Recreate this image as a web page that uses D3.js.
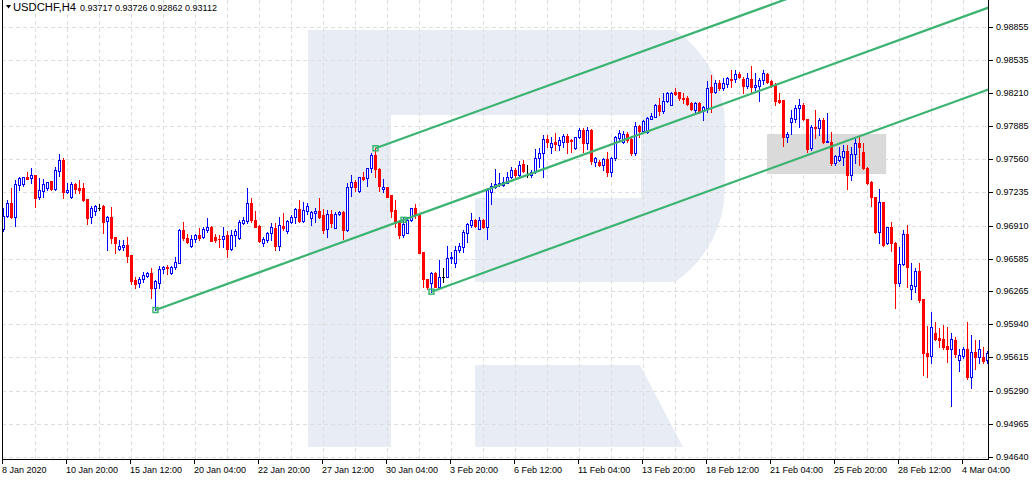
<!DOCTYPE html>
<html>
<head>
<meta charset="utf-8">
<script src="https://cdn.jsdelivr.net/npm/d3@7"></script>
<style>
  body { margin: 0; background: #fff; }
  svg { display: block; font-family: "Liberation Sans", Arial, sans-serif; }
</style>
</head>
<body>
<script>
// USDCHF H4 candles (bar 0 = 8 Jan 2020)
const open = [
  0.96874,0.97004,0.97135,0.96997,0.97311,0.97318,0.97390,0.97374,0.97407,0.97186,
  0.97252,0.97276,0.97344,0.97266,0.97449,0.97554,0.97239,0.97186,0.97318,0.97276,
  0.97276,0.97168,0.96991,0.97050,0.97082,0.97102,0.96952,0.96997,0.96794,0.96677,
  0.96697,0.96719,0.96621,0.96375,0.96343,0.96382,0.96415,0.96442,0.96300,0.96349,
  0.96481,0.96506,0.96442,0.96500,0.96545,0.96866,0.96784,0.96709,0.96775,0.96817,
  0.96794,0.96866,0.96893,0.96794,0.96781,0.96775,0.96817,0.96677,0.96814,0.96784,
  0.96938,0.96952,0.97135,0.96965,0.96906,0.96741,0.96768,0.96834,0.96883,0.96709,
  0.96906,0.96856,0.96948,0.96991,0.97073,0.96955,0.97056,0.96982,0.97036,0.97053,
  0.97014,0.96873,0.97024,0.96889,0.97024,0.97046,0.96866,0.97285,0.97340,0.97252,
  0.97384,0.97374,0.97472,0.97603,0.97463,0.97272,0.97285,0.97210,0.97063,0.96948,
  0.96817,0.96840,0.96965,0.97078,0.97014,0.96650,0.96382,0.96349,0.96442,0.96309,
  0.96402,0.96402,0.96589,0.96540,0.96670,0.96703,0.96840,0.96916,0.96965,0.96873,
  0.96965,0.96893,0.97242,0.97292,0.97314,0.97308,0.97330,0.97384,0.97456,0.97407,
  0.97512,0.97407,0.97407,0.97439,0.97577,0.97625,0.97757,0.97684,0.97733,0.97701,
  0.97733,0.97789,0.97747,0.97669,0.97776,0.97848,0.97717,0.97848,0.97537,0.97537,
  0.97505,0.97563,0.97439,0.97570,0.97773,0.97733,0.97809,0.97757,0.97625,0.97888,
  0.97842,0.97832,0.97961,0.97980,0.98091,0.98038,0.98136,0.98097,0.98219,0.98219,
  0.98166,0.98160,0.98117,0.98045,0.98117,0.98035,0.98061,0.98268,0.98225,0.98313,
  0.98258,0.98300,0.98349,0.98346,0.98398,0.98349,0.98280,0.98349,0.98274,0.98280,
  0.98339,0.98398,0.98332,0.98290,0.98143,0.98143,0.97783,0.97930,0.97953,0.98061,
  0.98094,0.97953,0.97669,0.97881,0.97865,0.97947,0.97733,0.97733,0.97521,0.97554,
  0.97586,0.97645,0.97407,0.97613,0.97717,0.97635,0.97472,0.97340,0.97193,0.96849,
  0.97144,0.96736,0.96899,0.96742,0.96349,0.96533,0.96827,0.96284,0.96316,0.96467,
  0.96189,0.95662,0.95632,0.95852,0.95809,0.95793,0.95727,0.95698,0.95786,0.95594,
  0.95632,0.95698,0.95420,0.95672,0.95622,0.95622,0.95590
];
const high = [
  0.97080,0.97161,0.97276,0.97357,0.97390,0.97390,0.97439,0.97472,0.97407,0.97374,
  0.97364,0.97340,0.97350,0.97488,0.97613,0.97570,0.97330,0.97340,0.97330,0.97357,
  0.97325,0.97174,0.97102,0.97112,0.97119,0.97109,0.97004,0.97095,0.96800,0.96768,
  0.96768,0.96794,0.96621,0.96408,0.96408,0.96457,0.96457,0.96491,0.96375,0.96513,
  0.96513,0.96523,0.96513,0.96604,0.96873,0.96948,0.96824,0.96817,0.96824,0.96883,
  0.96893,0.96982,0.96906,0.96827,0.96817,0.96893,0.96859,0.96866,0.96873,0.96965,
  0.96997,0.97276,0.97178,0.97056,0.96916,0.96800,0.96849,0.96933,0.96933,0.96997,
  0.97030,0.96965,0.97014,0.97078,0.97161,0.97144,0.97135,0.97053,0.97078,0.97178,
  0.97073,0.97063,0.97063,0.97046,0.97056,0.97056,0.97325,0.97407,0.97357,0.97390,
  0.97439,0.97478,0.97620,0.97669,0.97472,0.97364,0.97292,0.97210,0.97161,0.96965,
  0.96997,0.96991,0.97085,0.97122,0.97024,0.96650,0.96388,0.96457,0.96451,0.96572,
  0.96491,0.96709,0.96653,0.96709,0.96736,0.96866,0.96933,0.97036,0.96972,0.96991,
  0.96972,0.97276,0.97325,0.97463,0.97423,0.97384,0.97439,0.97482,0.97472,0.97547,
  0.97554,0.97505,0.97456,0.97659,0.97669,0.97799,0.97799,0.97776,0.97815,0.97782,
  0.97809,0.97809,0.97757,0.97782,0.97865,0.97865,0.97881,0.97855,0.97586,0.97554,
  0.97570,0.97635,0.97580,0.97789,0.97848,0.97841,0.97832,0.97766,0.97930,0.97898,
  0.97947,0.97980,0.98012,0.98104,0.98163,0.98209,0.98225,0.98225,0.98258,0.98225,
  0.98209,0.98182,0.98126,0.98126,0.98126,0.98084,0.98333,0.98388,0.98339,0.98339,
  0.98356,0.98372,0.98438,0.98438,0.98421,0.98372,0.98405,0.98477,0.98411,0.98356,
  0.98438,0.98411,0.98339,0.98313,0.98209,0.98143,0.97832,0.98045,0.98094,0.98150,
  0.98110,0.97953,0.97898,0.98045,0.97963,0.97963,0.98012,0.97832,0.97603,0.97684,
  0.97701,0.97701,0.97684,0.97776,0.97776,0.97717,0.97482,0.97350,0.97193,0.97266,
  0.97144,0.96899,0.96948,0.96751,0.96703,0.96866,0.96916,0.96545,0.96491,0.96545,
  0.96189,0.95927,0.96064,0.95966,0.95901,0.95934,0.95917,0.95852,0.95819,0.95695,
  0.95720,0.95966,0.95835,0.95786,0.95786,0.95721,0.95681
];
const low = [
  0.96859,0.96991,0.96987,0.96906,0.97259,0.97298,0.97364,0.97330,0.97095,0.97168,
  0.97193,0.97259,0.97259,0.97259,0.97397,0.97183,0.97227,0.97176,0.97227,0.97227,
  0.97154,0.96926,0.96938,0.97014,0.97063,0.96840,0.96670,0.96736,0.96643,0.96670,
  0.96670,0.96555,0.96336,0.96293,0.96309,0.96358,0.96402,0.96202,0.96081,0.96293,
  0.96442,0.96435,0.96435,0.96481,0.96540,0.96768,0.96736,0.96703,0.96751,0.96768,
  0.96787,0.96849,0.96761,0.96751,0.96703,0.96703,0.96598,0.96670,0.96709,0.96781,
  0.96926,0.96938,0.96948,0.96893,0.96751,0.96709,0.96751,0.96768,0.96670,0.96670,
  0.96866,0.96840,0.96933,0.96933,0.96948,0.96948,0.97024,0.96916,0.96948,0.96982,
  0.96840,0.96800,0.96899,0.96883,0.97014,0.96775,0.96859,0.97200,0.97252,0.97242,
  0.97357,0.97298,0.97439,0.97390,0.97252,0.97242,0.97186,0.96997,0.96899,0.96784,
  0.96800,0.96834,0.96958,0.96982,0.96638,0.96309,0.96290,0.96261,0.96303,0.96303,
  0.96358,0.96402,0.96540,0.96500,0.96653,0.96653,0.96751,0.96899,0.96893,0.96873,
  0.96883,0.96775,0.97122,0.97276,0.97301,0.97298,0.97325,0.97374,0.97390,0.97390,
  0.97439,0.97384,0.97390,0.97423,0.97488,0.97390,0.97678,0.97620,0.97652,0.97652,
  0.97684,0.97625,0.97635,0.97659,0.97766,0.97635,0.97659,0.97514,0.97495,0.97495,
  0.97456,0.97397,0.97397,0.97554,0.97750,0.97724,0.97733,0.97603,0.97603,0.97783,
  0.97832,0.97822,0.97954,0.97974,0.97996,0.98012,0.98126,0.98094,0.98192,0.98143,
  0.98117,0.98094,0.98045,0.98018,0.98012,0.97947,0.98028,0.98028,0.98209,0.98241,
  0.98241,0.98274,0.98274,0.98323,0.98356,0.98209,0.98258,0.98225,0.98241,0.98136,
  0.98300,0.98313,0.98274,0.98094,0.98117,0.97691,0.97733,0.97809,0.97930,0.97881,
  0.97947,0.97635,0.97652,0.97766,0.97799,0.97717,0.97733,0.97505,0.97505,0.97547,
  0.97505,0.97266,0.97357,0.97521,0.97505,0.97463,0.97318,0.97102,0.96834,0.96736,
  0.96709,0.96729,0.96663,0.96098,0.96316,0.96523,0.96309,0.96186,0.96261,0.96162,
  0.95443,0.95426,0.95563,0.95786,0.95714,0.95695,0.95573,0.95138,0.95616,0.95485,
  0.95607,0.95403,0.95311,0.95498,0.95563,0.95563,0.95557
];
const close = [
  0.97004,0.97135,0.96991,0.97318,0.97377,0.97384,0.97371,0.97407,0.97183,0.97259,
  0.97318,0.97340,0.97272,0.97456,0.97554,0.97242,0.97259,0.97318,0.97272,0.97259,
  0.97161,0.96987,0.97078,0.97102,0.97082,0.96948,0.96997,0.96790,0.96736,0.96709,
  0.96716,0.96614,0.96368,0.96336,0.96382,0.96425,0.96442,0.96300,0.96365,0.96481,
  0.96500,0.96491,0.96506,0.96552,0.96866,0.96784,0.96751,0.96778,0.96817,0.96790,
  0.96876,0.96893,0.96761,0.96768,0.96775,0.96807,0.96677,0.96817,0.96856,0.96948,
  0.96965,0.97135,0.96965,0.96899,0.96761,0.96775,0.96834,0.96893,0.96709,0.96916,
  0.96883,0.96955,0.96991,0.97073,0.96958,0.97063,0.97102,0.97046,0.97056,0.96991,
  0.96866,0.97024,0.96938,0.97024,0.97046,0.96866,0.97285,0.97334,0.97285,0.97384,
  0.97364,0.97472,0.97603,0.97463,0.97298,0.97285,0.97186,0.97056,0.96938,0.96817,
  0.96926,0.96965,0.97078,0.97014,0.96638,0.96382,0.96309,0.96442,0.96309,0.96402,
  0.96402,0.96589,0.96604,0.96670,0.96709,0.96849,0.96926,0.96965,0.96906,0.96965,
  0.96893,0.97259,0.97298,0.97318,0.97330,0.97334,0.97390,0.97456,0.97407,0.97505,
  0.97446,0.97407,0.97439,0.97577,0.97625,0.97757,0.97733,0.97717,0.97707,0.97750,
  0.97789,0.97733,0.97740,0.97776,0.97848,0.97717,0.97848,0.97547,0.97570,0.97505,
  0.97563,0.97439,0.97570,0.97782,0.97815,0.97809,0.97750,0.97625,0.97888,0.97842,
  0.97937,0.97970,0.97986,0.98091,0.98038,0.98136,0.98209,0.98215,0.98199,0.98160,
  0.98150,0.98104,0.98052,0.98117,0.98035,0.98077,0.98258,0.98225,0.98313,0.98258,
  0.98313,0.98356,0.98339,0.98398,0.98372,0.98280,0.98356,0.98274,0.98290,0.98339,
  0.98405,0.98323,0.98290,0.98136,0.98126,0.97783,0.97809,0.97963,0.98061,0.98094,
  0.97953,0.97659,0.97875,0.97865,0.97947,0.97733,0.97740,0.97521,0.97593,0.97593,
  0.97645,0.97407,0.97613,0.97717,0.97678,0.97472,0.97330,0.97193,0.96849,0.97144,
  0.96719,0.96899,0.96736,0.96349,0.96533,0.96827,0.96506,0.96326,0.96467,0.96179,
  0.95662,0.95632,0.95917,0.95796,0.95786,0.95720,0.95698,0.95796,0.95649,0.95639,
  0.95698,0.95420,0.95672,0.95622,0.95698,0.95583,0.95662
];

// axis labels
const yTicks = [0.98855, 0.98535, 0.98210, 0.97885, 0.97560, 0.97235, 0.96910,
                0.96585, 0.96265, 0.95940, 0.95615, 0.95290, 0.94965, 0.94640];
const xTickBars = [0, 16, 32, 48, 64, 80, 96, 112, 128, 144, 160, 176, 192, 208, 224, 240];
const xTickLabels = ['8 Jan 2020', '10 Jan 20:00', '15 Jan 12:00', '20 Jan 04:00',
  '22 Jan 20:00', '27 Jan 12:00', '30 Jan 04:00', '3 Feb 20:00', '6 Feb 12:00',
  '11 Feb 04:00', '13 Feb 20:00', '18 Feb 12:00', '21 Feb 04:00', '25 Feb 20:00',
  '28 Feb 12:00', '4 Mar 04:00'];
const headerSymbol = 'USDCHF,H4';
const headerQuote = ['0.93717', '0.93726', '0.92862', '0.93112'];

// channel: three parallel lines, anchors as [bar, price]
const channelSlope = 0.0001426; // price per bar
const channelAnchors = [[93, 0.97669], [38, 0.96081], [107, 0.96261]];
const channelPoints = [[38, 0.96081], [93, 0.97669], [100, 0.96966], [107, 0.96261]];
// grey zone (rectangle object)
const zoneBars = [191, 220.8];
const zonePrices = [0.97416, 0.97809];

const WIDTH = 1035, HEIGHT = 480;
const PLOT_LEFT = 2, PLOT_RIGHT = 988, PLOT_BOTTOM = 459;
const BULL = '#0000ff', BEAR = '#ff0000', CHANNEL = '#3cb371';

const x = d3.scaleLinear().domain([0, 1]).range([3, 7]);
const y = d3.scaleLinear().domain([0.94608, 0.99125]).range([460, 0]);
const py = v => Math.round(y(v));

const svg = d3.select('body').append('svg')
  .attr('width', WIDTH).attr('height', HEIGHT);

svg.append('defs').append('clipPath').attr('id', 'plot')
  .append('rect').attr('x', PLOT_LEFT).attr('y', 0)
  .attr('width', PLOT_RIGHT - PLOT_LEFT).attr('height', PLOT_BOTTOM);

const plot = svg.append('g').attr('clip-path', 'url(#plot)');

// watermark logo
const logo = plot.append('g').attr('fill', '#e8edf5');
logo.append('path').attr('d',
  'M308,30 L675,30 A115,115 0 0 1 725,125 L725,187 A115,115 0 0 1 675,282 ' +
  'L475,282 L475,198 L641,198 L641,115 L391,115 L391,447 L308,447 Z');
logo.append('path').attr('d', 'M475,365 L640,365 L683,447 L475,447 Z');

// grid
const grid = plot.append('g').attr('stroke', '#dedede').attr('stroke-dasharray', '4,3')
  .attr('shape-rendering', 'crispEdges');
grid.selectAll('.hg').data(yTicks).enter().append('line')
  .attr('x1', PLOT_LEFT).attr('x2', PLOT_RIGHT)
  .attr('y1', d => py(d) + 0.5).attr('y2', d => py(d) + 0.5);
grid.selectAll('.vg').data(d3.range(8, 247, 8)).enter().append('line')
  .attr('y1', 0).attr('y2', PLOT_BOTTOM)
  .attr('x1', d => x(d) + 0.5).attr('x2', d => x(d) + 0.5);

// zone
plot.append('rect')
  .attr('x', x(zoneBars[0])).attr('width', x(zoneBars[1]) - x(zoneBars[0]))
  .attr('y', y(zonePrices[1])).attr('height', y(zonePrices[0]) - y(zonePrices[1]))
  .attr('fill', '#dadada');

// candles
const bars = d3.range(open.length);
const candles = plot.append('g').attr('shape-rendering', 'crispEdges');
const colorOf = i => close[i] > open[i] ? BULL : (close[i] < open[i] ? BEAR : '#000');

candles.selectAll('.wick').data(bars).enter().append('rect')
  .attr('x', i => Math.floor(x(i))).attr('width', 1)
  .attr('y', i => py(high[i]))
  .attr('height', i => py(low[i]) - py(high[i]) + 1)
  .attr('fill', colorOf);

bars.forEach(i => {
  const cx = Math.floor(x(i));
  const top = py(Math.max(open[i], close[i]));
  const bot = py(Math.min(open[i], close[i]));
  if (close[i] < open[i]) {
    candles.append('rect').attr('x', cx - 1).attr('y', top)
      .attr('width', 3).attr('height', bot - top + 1).attr('fill', BEAR);
  } else if (close[i] > open[i] && bot - top >= 2) {
    candles.append('rect').attr('x', cx - 0.5).attr('y', top + 0.5)
      .attr('width', 2).attr('height', bot - top)
      .attr('fill', '#fff').attr('stroke', BULL);
  } else {
    candles.append('rect').attr('x', cx - 1).attr('y', top)
      .attr('width', 3).attr('height', bot - top + 1).attr('fill', colorOf(i));
  }
});

// channel lines
const line = d3.line().x(d => x(d[0]) + 0.5).y(d => y(d[1]));
channelAnchors.forEach(a => {
  const endBar = 280;
  plot.append('path')
    .datum([a, [endBar, a[1] + (endBar - a[0]) * channelSlope]])
    .attr('d', line).attr('fill', 'none')
    .attr('stroke', CHANNEL).attr('stroke-width', 2.2);
});
plot.selectAll('.anchor').data(channelPoints).enter().append('rect')
  .attr('x', d => x(d[0]) - 2).attr('y', d => y(d[1]) - 2.5)
  .attr('width', 5).attr('height', 5)
  .attr('fill', 'none').attr('stroke', CHANNEL).attr('stroke-width', 1.5);

// frame
const frame = svg.append('g').attr('stroke', '#000').attr('shape-rendering', 'crispEdges');
frame.append('line').attr('x1', PLOT_LEFT + 0.5).attr('x2', PLOT_LEFT + 0.5).attr('y1', 0).attr('y2', PLOT_BOTTOM + 0.5);
frame.append('line').attr('x1', PLOT_RIGHT + 0.5).attr('x2', PLOT_RIGHT + 0.5).attr('y1', 0).attr('y2', PLOT_BOTTOM + 0.5);
frame.append('line').attr('x1', PLOT_LEFT).attr('x2', PLOT_RIGHT + 1).attr('y1', PLOT_BOTTOM + 0.5).attr('y2', PLOT_BOTTOM + 0.5);

// axes
const yAxis = svg.append('g')
  .attr('transform', `translate(${PLOT_RIGHT + 1},0)`)
  .call(d3.axisRight(y).tickValues(yTicks).tickFormat(d3.format('.5f')).tickSize(4).tickPadding(3));
yAxis.selectAll('.tick').attr('transform', d => `translate(0,${py(d) + 0.5})`);

const xAxis = svg.append('g')
  .attr('transform', `translate(0,${PLOT_BOTTOM + 1})`)
  .call(d3.axisBottom(x).tickValues(xTickBars).tickFormat((d, i) => xTickLabels[i]).tickSize(4).tickPadding(3));
xAxis.selectAll('.tick').attr('transform', d => `translate(${Math.floor(x(d)) - 0.5},0)`);
xAxis.selectAll('text').attr('text-anchor', 'start').attr('x', -0.5);

[yAxis, xAxis].forEach(ax => {
  ax.select('.domain').remove();
  ax.attr('font-family', '"Liberation Sans", Arial, sans-serif').attr('font-size', 9);
  ax.selectAll('line').attr('stroke', '#000').attr('shape-rendering', 'crispEdges');
  ax.selectAll('text').attr('fill', '#000');
});

// header
svg.append('path').attr('d', 'M6,5 L11,5 L8.5,8.5 Z').attr('fill', '#000');
svg.append('text').attr('x', 13).attr('y', 11)
  .attr('font-size', 10).attr('textLength', 63).attr('lengthAdjust', 'spacingAndGlyphs')
  .text(headerSymbol);
svg.append('text').attr('x', 80).attr('y', 11).attr('font-size', 9)
  .text(headerQuote.join(' '));
</script>
</body>
</html>
